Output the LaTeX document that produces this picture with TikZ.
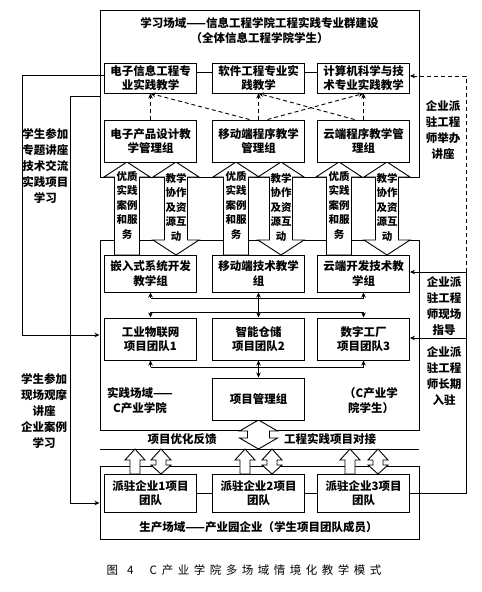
\documentclass[tikz,border=0pt]{standalone}
\usepackage{fontspec}
\setmainfont{Noto Sans CJK SC}
\usetikzlibrary{arrows.meta}
\newcommand\capsp{\kern4.5pt}
\newcommand\SingleUp[6]{%
  \draw[bigarr] (#1,#2) -- (#1+#5,#3) -- (#1+#6,#3) -- (#1+#6,#4) -- (#1-#6,#4) -- (#1-#6,#3) -- (#1-#5,#3) -- cycle;}
\newcommand\DoubleV[7]{%
  \draw[bigarr] (#1,#2) -- (#1+#6,#3) -- (#1+#7,#3) -- (#1+#7,#4) -- (#1+#6,#4) -- (#1,#5) -- (#1-#6,#4) -- (#1-#7,#4) -- (#1-#7,#3) -- (#1-#6,#3) -- cycle;}
\begin{document}
\begin{tikzpicture}[x=1pt,y=-1pt,
  fieldbox/.style={draw, line width=1pt, inner sep=0pt},
  bx/.style={draw, fill=white, line width=1pt, minimum width=92pt, inner sep=0pt, align=center, font=\bfseries\fontsize{11.5}{14.5}\selectfont},
  lbl/.style={align=center, font=\bfseries\fontsize{11.5}{16}\selectfont, inner sep=0pt},
  atext/.style={align=center, font=\bfseries\fontsize{10.5}{14.5}\selectfont, inner sep=0pt},
  ln/.style={line width=0.9pt},
  arr/.style={line width=0.9pt, -{Stealth[length=5pt,width=4.5pt]}},
  arrs/.style={line width=0.9pt, {Stealth[length=5pt,width=4.5pt]}-{Stealth[length=5pt,width=4.5pt]}},
  dasharr/.style={line width=0.9pt, dash pattern=on 4pt off 3pt, -{Stealth[length=5pt,width=4.5pt]}},
  bigarr/.style={draw, fill=white, line width=0.9pt, line join=miter},
]
\useasboundingbox (0,0) rectangle (482,592);
\fill[white] (0,0) rectangle (482,592);

% field boxes
\node[fieldbox, minimum width=319pt, minimum height=167pt] (learn) at (259.5,93.5) {};
\node[fieldbox, minimum width=319pt, minimum height=190pt] (prac) at (259.5,335) {};
\node[fieldbox, minimum width=319pt, minimum height=73pt] (prod) at (259.5,502.5) {};
\draw[line width=1pt] (100,449) -- (419,449);

% big arrows between learning and practice fields
\SingleUp{127}{162}{177}{255}{23}{12.5}
\DoubleV{176}{162}{177}{240}{255}{23}{11.5}
\SingleUp{236}{162}{177}{255}{23}{12.5}
\DoubleV{281}{162}{177}{240}{255}{23}{11.5}
\SingleUp{339}{162}{177}{255}{23}{12.5}
\DoubleV{387}{162}{177}{240}{255}{23}{11.5}
\node[atext] (a1l) at (127,205) {优质\\实践\\案例\\和服\\务};
\node[atext] (a1r) at (176,207) {教学\\协作\\及资\\源互\\动};
\node[atext] (a2l) at (236,205) {优质\\实践\\案例\\和服\\务};
\node[atext] (a2r) at (281,207) {教学\\协作\\及资\\源互\\动};
\node[atext] (a3l) at (339,205) {优质\\实践\\案例\\和服\\务};
\node[atext] (a3r) at (387,207) {教学\\协作\\及资\\源互\\动};

% practice <-> production
\DoubleV{258.5}{420}{431}{438}{449}{19}{11}
\SingleUp{135}{449}{460}{474}{10}{5}
\DoubleV{161}{449}{460}{465}{474}{10}{5}
\SingleUp{245}{449}{460}{474}{10}{5}
\DoubleV{272}{449}{460}{465}{474}{10}{5}
\SingleUp{350}{449}{460}{474}{10}{5}
\DoubleV{378}{449}{460}{465}{474}{10}{5}

% titles
\node[lbl] (ttl1) at (259.5,23) {学习场域——信息工程学院工程实践专业群建设};
\node[lbl] (ttl2) at (259.5,38.5) {（全体信息工程学院学生）};

% row 1
\node[bx, minimum height=30pt] (r1a) at (150.5,78) {电子信息工程专\\业实践教学};
\node[bx, minimum height=30pt] (r1b) at (258.5,78) {软件工程专业实\\践教学};
\node[bx, minimum height=30pt] (r1c) at (363.5,78) {计算机科学与技\\术专业实践教学};
% row 2
\node[bx, minimum height=42pt] (r2a) at (150.5,141) {电子产品设计教\\学管理组};
\node[bx, minimum height=42pt] (r2b) at (258.5,141) {移动端程序教学\\管理组};
\node[bx, minimum height=42pt] (r2c) at (363.5,141) {云端程序教学管\\理组};
% row 3
\node[bx, minimum height=37pt] (r3a) at (150.5,273.5) {嵌入式系统开发\\教学组};
\node[bx, minimum height=37pt] (r3b) at (258.5,273.5) {移动端技术教学\\组};
\node[bx, minimum height=37pt] (r3c) at (363.5,273.5) {云端开发技术教\\学组};
% row 4
\node[bx, minimum height=42pt] (r4a) at (150.5,339) {工业物联网\\项目团队1};
\node[bx, minimum height=42pt] (r4b) at (258.5,339) {智能仓储\\项目团队2};
\node[bx, minimum height=42pt] (r4c) at (363.5,339) {数字工厂\\项目团队3};
% project management
\node[bx, minimum height=42pt] (pm) at (258.5,399) {项目管理组};
% teams
\node[bx, minimum height=38pt] (tm1) at (150.5,493) {派驻企业1项目\\团队};
\node[bx, minimum height=38pt] (tm2) at (258.5,493) {派驻企业2项目\\团队};
\node[bx, minimum height=38pt] (tm3) at (363.5,493) {派驻企业3项目\\团队};

% field labels
\node[lbl, font=\bfseries\fontsize{11.5}{15}\selectfont] (pl1) at (140,400.5) {实践场域——\\C产业学院};
\node[lbl, font=\bfseries\fontsize{11.5}{15}\selectfont] (pl2) at (371,400.5) {（C产业学\\院学生）};
\node[lbl] (fb1) at (182,439) {项目优化反馈};
\node[lbl] (fb2) at (330,439) {工程实践项目对接};
\node[lbl] (prl) at (258.5,527) {生产场域——产业园企业（学生项目团队成员）};

% dashed arrows row2 -> row1
\draw[dasharr] (r2a.north) -- (r1a.south);
\draw[dasharr] (r2b.north) -- (r1b.south);
\draw[dasharr] (r2c.north) -- (r1c.south);
\draw[dasharr] ([xshift=-9pt]r2b.north) -- (r1a.south);
\draw[dasharr] ([xshift=9pt]r2b.north) -- (r1c.south);
\draw[dasharr] ([xshift=-9pt]r2c.north) -- (r1b.south);

% row 1 links
\draw[ln] ([yshift=6pt]r1a.east) -- ([yshift=6pt]r1b.west);
\draw[ln] ([yshift=6pt]r1b.east) -- ([yshift=6pt]r1c.west);

% buses
\coordinate (bu) at (0,298);
\coordinate (bl) at (0,312);
\coordinate (bp) at (0,367);
\draw[ln] (bu -| r3a.south) -- (bu -| r3c.south);
\draw[arr] (bu -| r3a.south) -- (r3a.south);
\draw[arr] (bu -| r3c.south) -- (r3c.south);
\draw[arrs] (r3b.south) -- (r4b.north);
\draw[ln] (bl -| r4a.north) -- (bl -| r4c.north);
\draw[arr] (bl -| r4a.north) -- (r4a.north);
\draw[arr] (bl -| r4c.north) -- (r4c.north);
\draw[ln] (bp -| r4a.south) -- (bp -| r4c.south);
\draw[arr] (bp -| r4a.south) -- (r4a.south);
\draw[arr] (bp -| r4c.south) -- (r4c.south);
\draw[arrs] (r4b.south) -- (pm.north);

% team links
\draw[ln] (tm1.east) -- (tm2.west);
\draw[ln] (tm2.east) -- (tm3.west);

% left lines
\coordinate (A1) at (22,75);
\coordinate (A2) at (22,335);
\draw[arr] (A1 -| r1a.west) -- (A1) -- (A2) -- (A2 -| prac.west);
\coordinate (B1) at (70,96);
\coordinate (B2) at (70,503);
\draw[arr] (B1 -| learn.west) -- (B1) -- (B2) -- (B2 -| prod.west);
\node[lbl] (ll1) at (45.5,166) {学生参加\\专题讲座\\技术交流\\实践项目\\学习};
\node[lbl] (ll2) at (44,411) {学生参加\\现场观摩\\讲座\\企业案例\\学习};

% right lines
\coordinate (R0) at (466,76);
\coordinate (R1) at (466,272);
\coordinate (R2) at (466,338);
\coordinate (R3) at (466,493);
\draw[dasharr] (R1) -- (R0) -- (R0 -| r1c.east);
\draw[ln] (R1) -- (R3) -- (R3 -| tm3.east);
\draw[arr] (R1) -- (R1 -| r3c.east);
\draw[arr] (R2) -- (R2 -| r4c.east);
\node[lbl] (rl1) at (443,130) {企业派\\驻工程\\师举办\\讲座};
\node[lbl] (rl2) at (444,306) {企业派\\驻工程\\师现场\\指导};
\node[lbl] (rl3) at (444,376) {企业派\\驻工程\\师长期\\入驻};

% caption
\node[font=\fontsize{11.5}{14}\selectfont, inner sep=0pt] (cap) at (244,570) {图\kern9pt 4\kern16pt C\kern5pt 产\capsp 业\capsp 学\capsp 院\capsp 多\capsp 场\capsp 域\capsp 情\capsp 境\capsp 化\capsp 教\capsp 学\capsp 模\capsp 式};
\end{tikzpicture}
\end{document}
